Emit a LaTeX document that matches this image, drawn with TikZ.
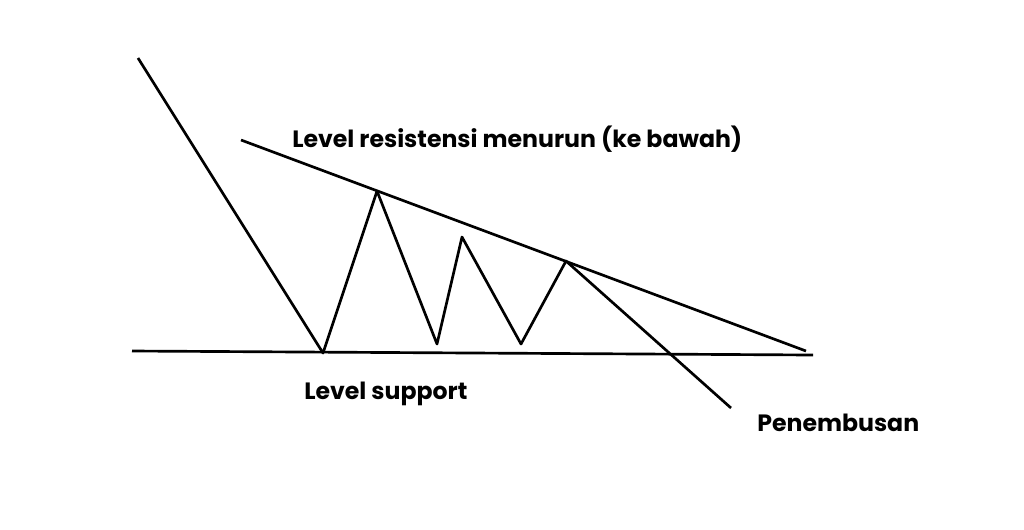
\documentclass[tikz,border=0pt]{standalone}
\usepackage{fontspec}
\setmainfont{Poppins}
\usetikzlibrary{positioning}

\begin{document}
\begin{tikzpicture}[%
    x=0.025cm, y=-0.025cm,      % Pixel grid of the chart, y going down
    line join=round,
    ]
% -------------------------------------------------
% A few styles
\tikzset{
  trend/.style={draw, line width=1.9pt},
  lbl/.style={font={\fontsize{16.8}{20}\selectfont\bfseries}, inner sep=0pt, anchor=west}
}
\useasboundingbox (0,0) rectangle (1024,529);
% -------------------------------------------------
% Turning points of the price
\coordinate (top)   at (138,58);
\coordinate (low1)  at (323,353);
\coordinate (high1) at (377,191);
\coordinate (low2)  at (437,344);
\coordinate (high2) at (462,237);
\coordinate (low3)  at (521,344);
\coordinate (high3) at (566,261);
\coordinate (brk)   at (731,408);
% Ends of the support and resistance lines
\coordinate (supL) at (132,351);
\coordinate (supR) at (813,355);
\coordinate (resL) at (241,140);
\coordinate (resR) at (806,351);

\draw [trend] (supL) -- (supR);
\draw [trend] (resL) -- (resR);
\draw [trend] (top) -- (low1) -- (high1) -- (low2) -- (high2)
  -- (low3) -- (high3) -- (brk);

% -------------------------------------------------
% Labels
\node [lbl] (res) at (292,139) {Level resistensi menurun (ke bawah)};
\node [lbl] (sup) at (304,394) {Level support};
\node [lbl] (pen) at (757,423) {Penembusan};
% -------------------------------------------------
\end{tikzpicture}
\end{document}
